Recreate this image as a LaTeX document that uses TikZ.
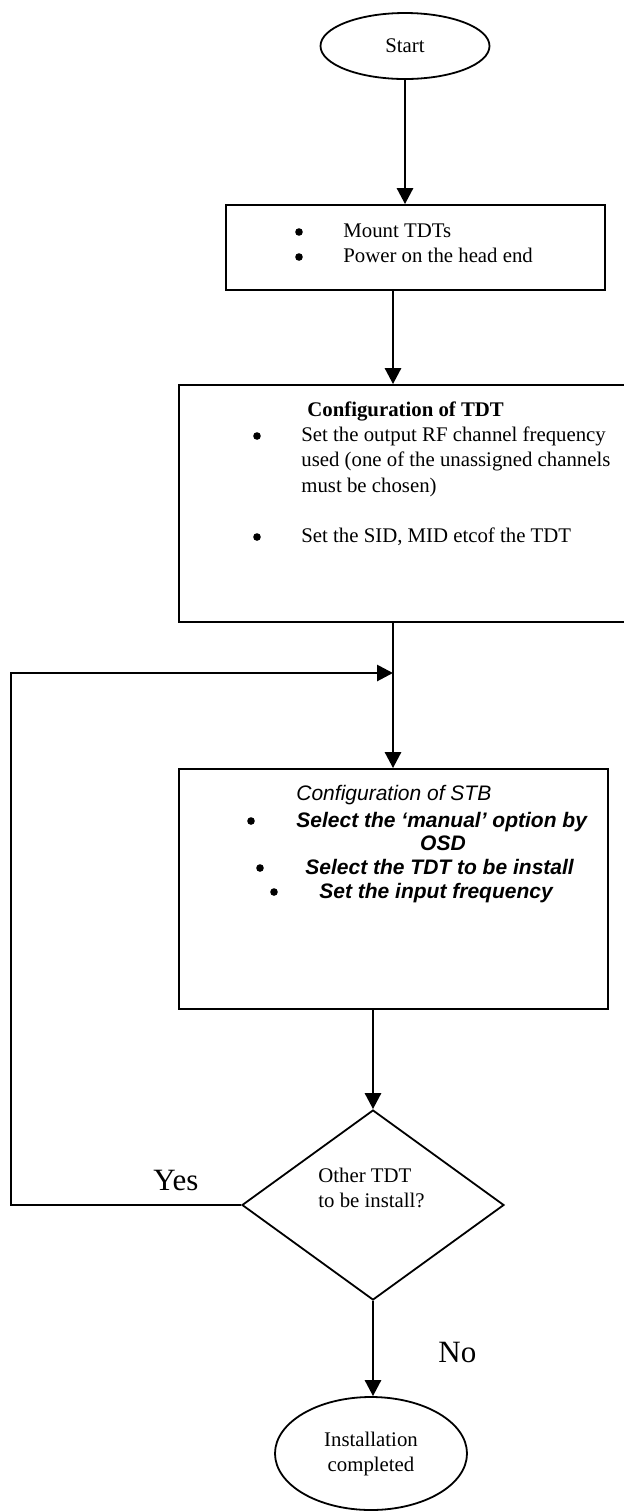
\documentclass[tikz,border=0pt]{standalone}
\usepackage{fontspec}
\setmainfont{Liberation Serif}
\setsansfont{Liberation Sans}
\usetikzlibrary{shapes.geometric,arrows.meta,positioning,calc,fit}

\begin{document}
\begin{tikzpicture}[x=0.5pt,y=-0.5pt,
        every node/.style={font=\fontsize{10.4}{12.5}\selectfont},
        flowbox/.style={draw, line width=0.9pt, inner sep=0pt},
        terminal/.style={draw, ellipse, line width=0.9pt, inner sep=0pt, align=center},
        decision/.style={draw, diamond, line width=0.9pt, inner sep=0pt,
                         minimum width=131pt, minimum height=95pt},
        flow/.style={line width=1.4pt, -{Triangle[length=8pt,width=8pt]}},
        txt/.style={anchor=base west, inner sep=0pt},
        dot/.style={circle, fill, inner sep=0pt, minimum size=3.8pt},
        hd/.style={txt, font=\fontsize{10.4}{12.5}\selectfont\bfseries},
        stbtxt/.style={txt, font=\fontsize{10.5}{12.5}\selectfont\sffamily\bfseries\itshape},
        answer/.style={anchor=base west, inner sep=0pt, font=\fontsize{15.5}{18}\selectfont}]
        \useasboundingbox (0,0) rectangle (623,1512);

        \node[terminal, minimum width=84.5pt, minimum height=33pt] (start) at (405,46) {Start};

        \node[flowbox, fit={(226,205) (605,290)}] (mount) {};
        \node[dot] (mountb1) at (299,232) {};
        \node[txt] (mountt1) at (343,237) {Mount TDTs};
        \node[dot] (mountb2) at (299,257) {};
        \node[txt] (mountt2) at (343,262) {Power on the head end};

        \node[flowbox, fit={(179,385) (625,622)}] (tdt) {};
        \node[hd] (tdth) at (307,416) {Configuration of TDT};
        \node[dot] (tdtb1) at (257,436) {};
        \node[txt] (tdtt1) at (301,441) {Set the output RF channel frequency};
        \node[txt] (tdtt2) at (301,466) {used (one of the unassigned channels};
        \node[txt] (tdtt3) at (301,492) {must be chosen)};
        \node[dot] (tdtb2) at (257,537) {};
        \node[txt] (tdtt4) at (301,542) {Set the SID, MID etcof the TDT};

        \node[flowbox, fit={(179,769) (608,1009)}] (stb) {};
        \node[txt, font=\fontsize{10.5}{12.5}\selectfont\sffamily\itshape] (stbh) at (296,800) {Configuration of STB};
        \node[dot] (stbb1) at (251,821) {};
        \node[stbtxt] (stbt1) at (296,827) {Select the ‘manual’ option by};
        \node[stbtxt, anchor=base] (stbt2) at (443,850) {OSD};
        \node[dot] (stbb2) at (260,868) {};
        \node[stbtxt] (stbt3) at (305,874) {Select the TDT to be install};
        \node[dot] (stbb3) at (274,892) {};
        \node[stbtxt] (stbt4) at (319,898) {Set the input frequency};

        \node[decision] (other) at (373,1205) {};
        \node[txt] (othert1) at (318,1182) {Other TDT};
        \node[txt] (othert2) at (318,1207) {to be install?};

        \node[terminal, minimum width=96pt, minimum height=56.5pt] (done) at (371,1453.5) {Installation\\completed};

        \node[answer] (yes) at (153,1190) {Yes};
        \node[answer] (no) at (438,1362) {No};

        \coordinate (spine) at (393,0);
        \coordinate (corner) at (11,0);
        \coordinate (join) at (393,673);

        \draw[flow] (start.south) -- (start.south |- mount.north);
        \draw[flow] (mount.south -| spine) -- (tdt.north -| spine);
        \draw[flow] (tdt.south -| spine) -- (stb.north -| spine);
        \draw[flow] (other.north |- stb.south) -- (other.north);
        \draw[flow] (other.west) -- (other.west -| corner) |- (join);
        \draw[flow] (other.south) -- (other.south |- done.north);
\end{tikzpicture}
\end{document}
